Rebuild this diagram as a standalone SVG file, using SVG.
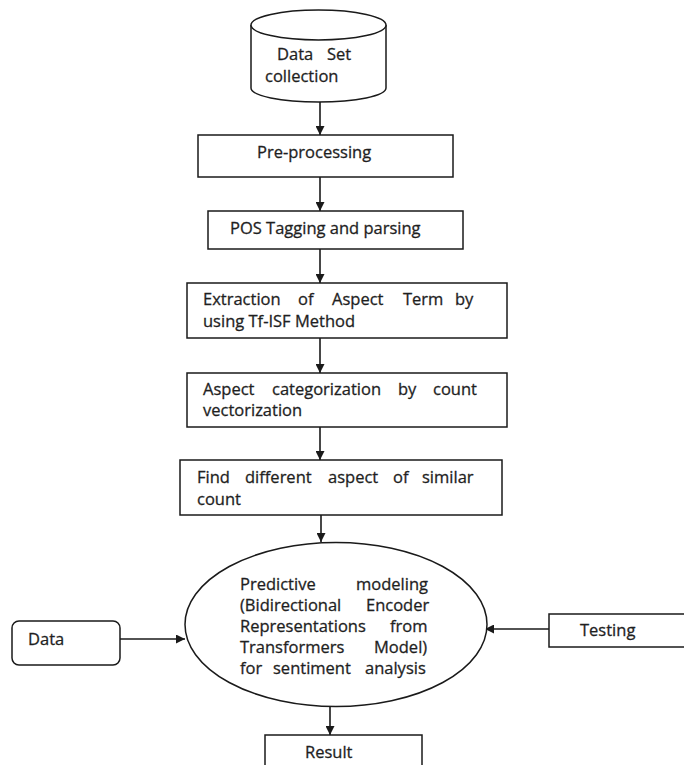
<svg xmlns="http://www.w3.org/2000/svg" width="684" height="765" viewBox="0 0 684 765">
<defs>
<marker id="ah" viewBox="0 0 10 10" refX="10" refY="5" markerWidth="9" markerHeight="9" markerUnits="userSpaceOnUse" orient="auto">
<path d="M0,0 L10,5 L0,10 z" fill="#1a1a1a"/>
</marker>
<style>
.shape{fill:#fff;stroke:#1a1a1a;stroke-width:1.5}
.conn{fill:none;stroke:#1a1a1a;stroke-width:1.6;marker-end:url(#ah)}
text{font-family:"Open Sans","Noto Sans","Liberation Sans",sans-serif;font-size:16.5px;fill:#1f1f1f;stroke:#1f1f1f;stroke-width:0.3}
</style>
</defs>
<rect width="684" height="765" fill="#fff"/>
<g id="connectors">
<line class="conn" x1="320" y1="102" x2="320" y2="135"/>
<line class="conn" x1="320" y1="177" x2="320" y2="211"/>
<line class="conn" x1="320" y1="249" x2="320" y2="283"/>
<line class="conn" x1="320" y1="338" x2="320" y2="373"/>
<line class="conn" x1="320" y1="427" x2="320" y2="460"/>
<line class="conn" x1="321" y1="515" x2="321" y2="542"/>
<line class="conn" x1="120" y1="639" x2="185" y2="639"/>
<line class="conn" x1="549" y1="629" x2="485" y2="629"/>
<line class="conn" x1="330" y1="707" x2="330" y2="735"/>
</g>
<g id="dataset">
<path class="shape" d="M251,25 L251,88 A67.5,14 0 0 0 386,88 L386,25"/>
<ellipse class="shape" cx="318.5" cy="25" rx="67.5" ry="15"/>
<text><tspan x="277" y="60">Data</tspan><tspan x="327" y="60">Set</tspan><tspan x="265" y="82">collection</tspan></text>
</g>
<g id="preprocessing">
<rect class="shape" x="198" y="135" width="255" height="42"/>
<text x="257" y="158">Pre-processing</text>
</g>
<g id="pos">
<rect class="shape" x="208" y="211" width="255" height="38"/>
<text x="230" y="234">POS Tagging and parsing</text>
</g>
<g id="extraction">
<rect class="shape" x="187" y="283" width="320" height="55"/>
<text><tspan x="203" y="305">Extraction</tspan><tspan x="298" y="305">of</tspan><tspan x="332" y="305">Aspect</tspan><tspan x="403" y="305">Term</tspan><tspan x="455" y="305">by</tspan><tspan x="203" y="327">using Tf-ISF Method</tspan></text>
</g>
<g id="categorization">
<rect class="shape" x="187" y="373" width="320" height="54"/>
<text><tspan x="203" y="395">Aspect</tspan><tspan x="272" y="395">categorization</tspan><tspan x="398" y="395">by</tspan><tspan x="433" y="395">count</tspan><tspan x="203" y="416">vectorization</tspan></text>
</g>
<g id="find">
<rect class="shape" x="180" y="460" width="322" height="55"/>
<text><tspan x="197" y="483">Find</tspan><tspan x="245" y="483">different</tspan><tspan x="328" y="483">aspect</tspan><tspan x="393" y="483">of</tspan><tspan x="422" y="483">similar</tspan><tspan x="197" y="505">count</tspan></text>
</g>
<g id="predictive">
<ellipse class="shape" cx="336" cy="624.5" rx="151" ry="82"/>
<text><tspan x="240" y="590">Predictive</tspan><tspan x="356" y="590">modeling</tspan><tspan x="240" y="611">(Bidirectional</tspan><tspan x="366" y="611">Encoder</tspan><tspan x="240" y="632">Representations</tspan><tspan x="390" y="632">from</tspan><tspan x="240" y="653">Transformers</tspan><tspan x="374" y="653">Model)</tspan><tspan x="240" y="674">for</tspan><tspan x="273" y="674">sentiment</tspan><tspan x="365" y="674">analysis</tspan></text>
</g>
<g id="data">
<rect class="shape" x="12" y="621" width="108" height="44" rx="7"/>
<text x="28" y="645">Data</text>
</g>
<g id="testing">
<rect class="shape" x="549" y="614" width="145" height="33"/>
<text x="580" y="636">Testing</text>
</g>
<g id="result">
<rect class="shape" x="265" y="735" width="157" height="45"/>
<text x="305" y="758">Result</text>
</g>
</svg>
